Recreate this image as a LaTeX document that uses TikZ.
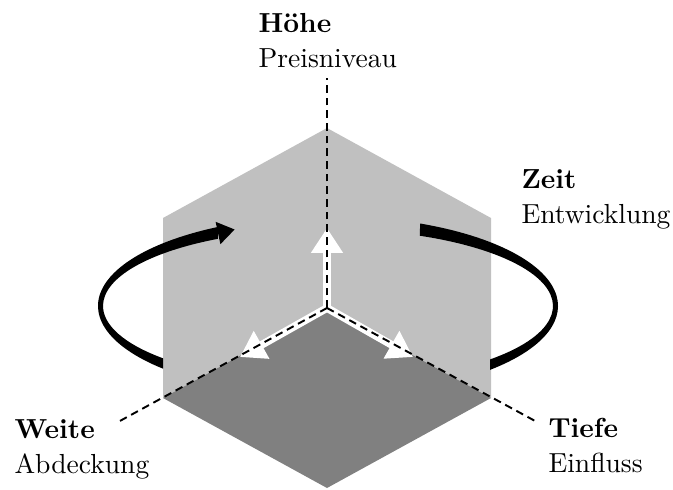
\documentclass[tikz,border=0pt]{standalone}
\usetikzlibrary{arrows.meta}
\definecolor{facelight}{HTML}{C0C0C0}
\definecolor{facedark}{HTML}{808080}

\begin{document}
\begin{tikzpicture}[x=0.363pt, y=0.363pt,
    axisline/.style={black, line width=0.7pt, dash pattern=on 2.8pt off 1.8pt},
    dirarrow/.style={white, line width=2.8pt, -{Triangle[width=11pt, length=9pt]}},
    axislabel/.style={align=left, inner sep=0pt, anchor=north west}]
    \useasboundingbox (0,0) rectangle (673,489);

    % Cube corners
    \coordinate (C) at (327,181);
    \coordinate (top) at (327,361);
    \coordinate (ul) at (163,271);
    \coordinate (ll) at (163,91);
    \coordinate (bot) at (327,1);
    \coordinate (lr) at (491,91);
    \coordinate (ur) at (491,271);

    % Faces
    \fill[facelight] (C) -- (ll) -- (ul) -- (top) -- (ur) -- (lr) -- cycle;
    \fill[facedark] (C) -- (ll) -- (bot) -- (lr) -- cycle;

    % Directions
    \coordinate (upend) at (327,411);
    \coordinate (leftend) at (118,67);
    \coordinate (rightend) at (537,67);
    \coordinate (uptip) at (327,261);
    \coordinate (lefttip) at (240,132);
    \coordinate (righttip) at (413,132);
    \draw[dirarrow] (C) -- (uptip);
    \draw[dirarrow] (C) -- (lefttip);
    \draw[dirarrow] (C) -- (righttip);
    \draw[axisline] (C) -- (upend);
    \draw[axisline] (C) -- (leftend);
    \draw[axisline] (C) -- (rightend);

    % Rotation around the cube
    \fill (420.1,265.5) arc[start angle=66.4, end angle=-45.2, x radius=230, y radius=90]
        -- (490.1,129.6) arc[start angle=-43.9, end angle=65.9, x radius=225, y radius=77] -- cycle;
    \fill (163.1,120.3) arc[start angle=224.2, end angle=118.6, x radius=230, y radius=90]
        -- (217.9,250.2) arc[start angle=119.3, end angle=222.9, x radius=225, y radius=77] -- cycle;
    \fill (215.6,267.2) -- (234.6,259.5) -- (220.4,244.8) -- cycle;

    % Labels
    \node[axislabel] (hoehe) at (258,476) {\textbf{Höhe}\\[0.7pt]Preisniveau};
    \node[axislabel] (zeit) at (521,320) {\textbf{Zeit}\\[0.7pt]Entwicklung};
    \node[axislabel] (weite) at (14,70) {\textbf{Weite}\\[0.7pt]Abdeckung};
    \node[axislabel] (tiefe) at (548,71) {\textbf{Tiefe}\\[0.7pt]Einfluss};
\end{tikzpicture}
\end{document}
